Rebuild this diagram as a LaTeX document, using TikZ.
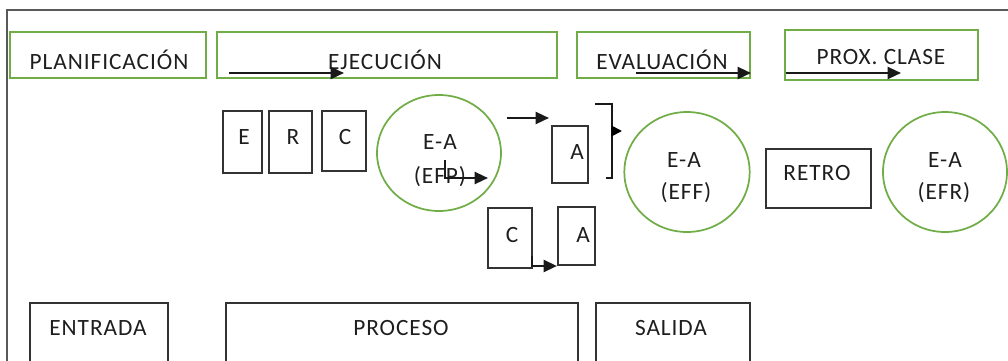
\documentclass[tikz,border=0pt]{standalone}
\usepackage{fontspec}
\setmainfont{Carlito}[LetterSpace=4]
\usetikzlibrary{arrows.meta,fit,shapes.geometric}
\definecolor{boxgreen}{RGB}{112,173,71}
\definecolor{inkc}{RGB}{30,30,30}
\begin{document}
\begin{tikzpicture}[x=0.75pt,y=-0.75pt,
  every node/.style={font=\fontsize{17.5}{20}\selectfont, text=inkc},
  greenbox/.style={draw=boxgreen, line width=1.3pt, inner sep=0pt},
  blackbox/.style={draw=black!80, line width=1.6pt, inner sep=0pt},
  greenell/.style={draw=boxgreen, line width=1.3pt, ellipse, inner sep=0pt},
  lbl/.style={inner sep=0pt, anchor=center},
  arr/.style={draw=black!90, line width=1.7pt, -{Triangle[length=10pt,width=9pt]}},
  conn/.style={draw=black!90, line width=1.7pt}
]
\useasboundingbox (0,0) rectangle (1008,361);
% outer frame
\coordinate (fbl) at (7,362);
\coordinate (ftl) at (7,10);
\coordinate (ftr) at (1009,10);
\draw[black!65, line width=1.8pt] (fbl) -- (ftl) -- (ftr);

% top green boxes
\node[greenbox, fit={(10,32) (206,78)}] (plan) {};
\node[greenbox, fit={(217,32) (557,78)}] (ejec) {};
\node[greenbox, fit={(577,32) (750,78)}] (eval) {};
\node[greenbox, fit={(785,30) (978,80)}] (prox) {};
\node[lbl] (tplan) at (109,60) {PLANIFICACIÓN};
\node[lbl] (tejec) at (385,60) {EJECUCIÓN};
\node[lbl] (teval) at (662,60) {EVALUACIÓN};
\node[lbl] (tprox) at (881,57) {PROX. CLASE};

% arrows in top boxes
\coordinate (a1s) at (229,73); \coordinate (a1e) at (344,73);
\coordinate (a2s) at (636,73); \coordinate (a2e) at (751,73);
\coordinate (a3s) at (786,73); \coordinate (a3e) at (901,73);
\draw[arr] (a1s) -- (a1e);
\draw[arr] (a2s) -- (a2e);
\draw[arr] (a3s) -- (a3e);

% E R C boxes
\node[blackbox, fit={(223,111) (262,173)}] (bE) {};
\node[blackbox, fit={(269,111) (312,173)}] (bR) {};
\node[blackbox, fit={(322,111) (366,171)}] (bC) {};
\node[lbl] (tE) at (244,137) {E};
\node[lbl] (tR) at (293,137) {R};
\node[lbl] (tC) at (345,137) {C};

% EFP ellipse
\node[greenell, minimum width=93pt, minimum height=87pt] (efp) at (439,153) {};
\node[lbl] (tefp1) at (440,142) {E-A};
\node[lbl] (tefp2) at (440,177) {(EFP)};
\coordinate (c1s) at (445,160);
\coordinate (c1e) at (488,178);
\draw[arr] (c1s) |- (c1e);

% arrow to A
\coordinate (c2s) at (507,118);
\coordinate (c2e) at (549,118);
\draw[arr] (c2s) -- (c2e);

% A box
\node[blackbox, fit={(552,126) (588,183)}] (bA1) {};
\node[lbl] (tA1) at (577,152) {A};

% bracket connector
\coordinate (k1) at (595,104);
\coordinate (k2) at (612,104);
\coordinate (k3) at (612,178);
\coordinate (k4) at (606,178);
\coordinate (k5) at (612,131);
\coordinate (k6) at (622,131);
\draw[conn] (k1) -- (k2) -- (k3) -- (k4);
\draw[draw=black, line width=1.4pt, -{Triangle[length=8pt,width=8pt]}] (k5) -- (k6);

% lower C and A
\node[blackbox, fit={(488,208) (532,268)}] (bC2) {};
\node[blackbox, fit={(558,207) (595,265)}] (bA2) {};
\node[lbl] (tC2) at (512,235) {C};
\node[lbl] (tA2) at (583,235) {A};
\coordinate (c3s) at (532,256);
\draw[arr] (c3s) |- (bA2.south west |- 0,266);

% EFF
\node[greenell, minimum width=94pt, minimum height=90pt] (eff) at (687,172) {};
\node[lbl] (teff1) at (684,160) {E-A};
\node[lbl] (teff2) at (686,193) {(EFF)};

% RETRO
\node[blackbox, fit={(766,149) (871,208)}] (retro) {};
\node[lbl] (tretro) at (817,173) {RETRO};

% EFR
\node[greenell, minimum width=93pt, minimum height=90pt] (efr) at (945,172) {};
\node[lbl] (tefr1) at (945,160) {E-A};
\node[lbl] (tefr2) at (944,193) {(EFR)};

% bottom boxes
\node[blackbox, fit={(30,303) (168,370)}] (entrada) {};
\node[blackbox, fit={(226,303) (578,370)}] (proceso) {};
\node[blackbox, fit={(596,303) (750,370)}] (salida) {};
\node[lbl] (tent) at (98,328) {ENTRADA};
\node[lbl] (tpro) at (401,328) {PROCESO};
\node[lbl] (tsal) at (671,328) {SALIDA};
\end{tikzpicture}
\end{document}
